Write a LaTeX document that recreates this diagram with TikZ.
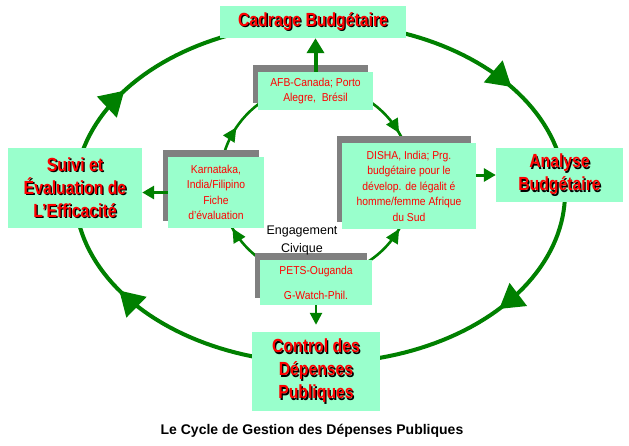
\documentclass[tikz,border=0pt]{standalone}
\usepackage{fontspec}
\setmainfont{Liberation Sans}
\newfontfamily\bigf{Liberation Sans}[FakeStretch=0.83]
\newfontfamily\smf{Liberation Sans}[FakeStretch=0.9]
\usetikzlibrary{arrows.meta,shadows}
\definecolor{mint}{HTML}{99FFCC}
\definecolor{dgreen}{HTML}{008000}
\definecolor{sgray}{HTML}{808080}
\definecolor{tred}{HTML}{FF0000}
\newcommand\shd[1]{\leavevmode\rlap{\kern1.3pt\raisebox{-1.3pt}{\color{black}#1}}#1}
\tikzset{
  bigbox/.style={fill=mint, draw=none, inner sep=0pt, text=tred, align=center,
    font={\bigf\bfseries\fontsize{19}{23}\selectfont}},
  smallbox/.style={fill=mint, draw=none, inner sep=0pt, text=tred, align=center,
    font={\smf\fontsize{11.5}{15.5}\selectfont},
    drop shadow={shadow xshift=-5pt, shadow yshift=7pt, fill=sgray, opacity=1}},
  outer/.style={draw=dgreen, line width=4pt},
  inner/.style={draw=dgreen, line width=2.6pt},
  bigtip/.style={draw=dgreen, fill=dgreen, line width=4pt, -{Triangle[length=24pt,width=28pt]}},
  smalltip/.style={draw=dgreen, fill=dgreen, line width=2.6pt, -{Triangle[length=14pt,width=13pt]}},
  sarrow/.style={draw=dgreen, line width=3pt, -{Triangle[length=12pt,width=13pt]}},
  tarrow/.style={draw=dgreen, line width=4pt, -{Triangle[length=15pt,width=17pt]}},
  parrow/.style={draw=dgreen, line width=2.5pt, -{Triangle[length=12pt,width=12pt]}}
}
\begin{document}
\begin{tikzpicture}[x=1pt,y=-1pt]
\useasboundingbox (0,0) rectangle (629,445);
% outer cycle
\draw[outer] plot[domain=0:360,samples=181] ({320+245*cos(\x)},{193+170*sin(\x)}) -- cycle;
\foreach \a [count=\i] in {-38.6,43,145,217}{
  \coordinate (ob\i) at ({320+245*cos(\a-1)},{193+170*sin(\a-1)});
  \coordinate (oe\i) at ({320+245*cos(\a)},{193+170*sin(\a)});
  \draw[bigtip] (ob\i) -- (oe\i);
}
% inner cycle
\coordinate (ic) at (316,181);
\draw[inner] (ic) circle[radius=96];
% big boxes
\node[bigbox, minimum width=186pt, minimum height=32pt] (cad) at (313,22) {\shd{Cadrage Budgétaire}};
\node[bigbox, minimum width=134pt, minimum height=80pt] (sui) at (75,188) {\shd{Suivi et}\\\shd{Évaluation de}\\\shd{L’Efficacité}};
\node[bigbox, minimum width=127pt, minimum height=54pt] (ana) at (559.5,175) {\shd{Analyse}\\\shd{Budgétaire}};
\node[bigbox, minimum width=128pt, minimum height=79pt] (con) at (316,371.5) {\shd{Control des}\\\shd{Dépenses}\\\shd{Publiques}};
% small boxes
\node[smallbox, minimum width=115pt, minimum height=38pt] (afb) at (315.5,91) {AFB-Canada; Porto\\Alegre,\ \ Brésil};
\node[smallbox, minimum width=96pt, minimum height=71pt] (kar) at (216,192.5) {Karnataka,\\India/Filipino\\Fiche\\d’évaluation};
\node[smallbox, minimum width=134pt, minimum height=86pt] (dis) at (409,186) {DISHA, India; Prg.\\budgétaire pour le\\dévelop. de légalit é\\homme/femme Afrique\\du Sud};
\node[smallbox, minimum width=112pt, minimum height=45pt] (pets) at (316,282.5) {PETS-Ouganda\\[9.5pt]G-Watch-Phil.};
% inner arrow tips
\foreach \a/\d [count=\i] in {214/1, 330/1, 150.5/1, 30/-1}{
  \coordinate (ib\i) at ({316+96*cos(\a-\d*2)},{181+96*sin(\a-\d*2)});
  \coordinate (ie\i) at ({316+96*cos(\a)},{181+96*sin(\a)});
  \draw[smalltip] (ib\i) -- (ie\i);
}
% straight arrows
\draw[tarrow] (afb.north) -- (afb.north |- cad.south);
\draw[sarrow] (kar.west) -- (kar.west -| sui.east);
\draw[sarrow] (dis.east |- ana.west) -- (ana.west);
\draw[parrow, shorten >=7pt] (pets.south) -- (pets.south |- con.north);
% texts
\node[font={\fontsize{12.5}{18}\selectfont}, align=center, inner sep=0pt] (eng) at (302,240) {Engagement\\Civique};
\node[font={\bfseries\fontsize{14}{17}\selectfont}, inner sep=0pt] (cap) at (312,431) {Le Cycle de Gestion des Dépenses Publiques};
\end{tikzpicture}
\end{document}
